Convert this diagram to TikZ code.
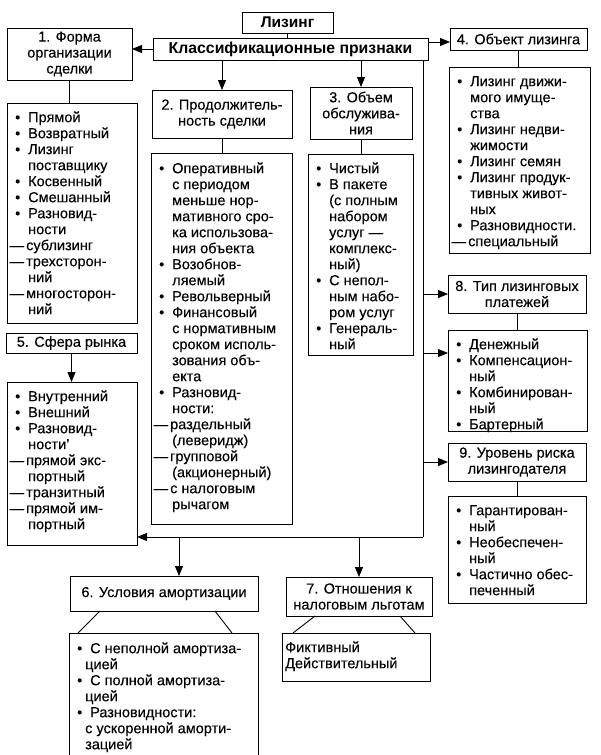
\documentclass[tikz,border=0pt]{standalone}
\usepackage{fontspec}
\setmainfont{Liberation Sans}[FakeBold=0.25]
\newfontfamily\hbold{Liberation Sans Bold}
\usetikzlibrary{arrows.meta,calc}
\newcommand{\bu}[1]{\makebox[20pt][l]{\hspace{7pt}\textbullet}#1}
\newcommand{\co}[1]{\makebox[20pt][l]{}#1}
\newcommand{\cs}[1]{\makebox[15pt][l]{}#1}
\newcommand{\da}[1]{\makebox[18pt][l]{\hspace{1.5pt}—}#1}
\newcommand{\fst}{\rule{0pt}{12pt}}
\tikzset{
  frame/.style={draw, line width=0.9pt, inner sep=0pt, outer sep=0pt, anchor=north west},
  head/.style={frame, align=center, font=\fontsize{14.5}{16}\selectfont},
  ltext/.style={anchor=north west, inner sep=0pt, align=left, font=\fontsize{14.5}{16}\selectfont},
  conn/.style={line width=0.9pt},
  arr/.style={conn, -{Triangle[length=10pt,width=8pt]}},
}
\begin{document}
\begin{tikzpicture}[x=1pt,y=-1pt]
\useasboundingbox (0,0) rectangle (600,755);
\clip (0,0) rectangle (600,755);
% header boxes
\node[head, minimum width=91pt, minimum height=21pt, font=\hbold\fontsize{15.5}{16}\selectfont] (lz) at (242,12) {Лизинг};
\node[head, minimum width=275pt, minimum height=22pt, font=\hbold\fontsize{15.8}{16}\selectfont] (kp) at (153,38) {Классификационные признаки};
\node[head, minimum width=125pt, minimum height=52pt] (b1) at (7,28) {1. Форма\\организации\\сделки};
\node[head, minimum width=140pt, minimum height=48pt] (b2) at (152,90) {2. Продолжитель-\\ность сделки};
\node[head, minimum width=102pt, minimum height=52pt] (b3) at (310,87) {3. Объем\\обслужива-\\ния};
\node[head, minimum width=137pt, minimum height=22pt] (b4) at (450,28) {4. Объект лизинга};
\node[head, minimum width=131pt, minimum height=20pt] (b5) at (6,333) {5. Сфера рынка};
\node[head, minimum width=188pt, minimum height=35pt] (b6) at (70,576) {6. Условия амортизации};
\node[head, minimum width=146pt, minimum height=39pt] (b7) at (286,577) {7. Отношения к\\налоговым льготам};
\node[head, minimum width=138pt, minimum height=38pt] (b8) at (448,275) {8. Тип лизинговых\\платежей};
\node[head, minimum width=138pt, minimum height=38pt] (b9) at (448,443) {9. Уровень риска\\лизингодателя};
% list boxes
\node[frame, minimum width=130pt, minimum height=220pt] (l1) at (7,103) {};
\node[frame, minimum width=141pt, minimum height=371pt] (l2) at (151,153) {};
\node[frame, minimum width=105pt, minimum height=201pt] (l3) at (308,154) {};
\node[frame, minimum width=141pt, minimum height=186pt] (l4) at (449,67) {};
\node[frame, minimum width=130pt, minimum height=163pt] (l5) at (7,382) {};
\node[frame, minimum width=189pt, minimum height=140pt] (l6) at (69,633) {};
\node[frame, minimum width=148pt, minimum height=48pt] (l7) at (282,633) {};
\node[frame, minimum width=139pt, minimum height=101pt] (l8) at (448,330) {};
\node[frame, minimum width=138pt, minimum height=107pt] (l9) at (448,496) {};
% list texts
\node[ltext] (t1) at ($(l1.north west)+(1,7)$) {\fst\bu{Прямой}\\\bu{Возвратный}\\\bu{Лизинг}\\\co{поставщику}\\\bu{Косвенный}\\\bu{Смешанный}\\\bu{Разновид-}\\\co{ности}\\\da{сублизинг}\\\da{трехсторон-}\\\co{ний}\\\da{многосторон-}\\\co{ний}};
\node[ltext] (t2) at ($(l2.north west)+(1,8)$) {\fst\bu{Оперативный}\\\co{с периодом}\\\co{меньше нор-}\\\co{мативного сро-}\\\co{ка использова-}\\\co{ния объекта}\\\bu{Возобнов-}\\\co{ляемый}\\\bu{Револьверный}\\\bu{Финансовый}\\\co{с нормативным}\\\co{сроком исполь-}\\\co{зования объ-}\\\co{екта}\\\bu{Разновид-}\\\co{ности:}\\\da{раздельный}\\\co{(леверидж)}\\\da{групповой}\\\co{(акционерный)}\\\da{с налоговым}\\\co{рычагом}};
\node[ltext] (t3) at ($(l3.north west)+(1,7)$) {\fst\bu{Чистый}\\\bu{В пакете}\\\co{(с полным}\\\co{набором}\\\co{услуг —}\\\co{комплекс-}\\\co{ный)}\\\bu{С непол-}\\\co{ным набо-}\\\co{ром услуг}\\\bu{Генераль-}\\\co{ный}};
\node[ltext] (t4) at ($(l4.north west)+(1,7)$) {\fst\bu{Лизинг движи-}\\\co{мого имуще-}\\\co{ства}\\\bu{Лизинг недви-}\\\co{жимости}\\\bu{Лизинг семян}\\\bu{Лизинг продук-}\\\co{тивных живот-}\\\co{ных}\\\bu{Разновидности.}\\\da{специальный}};
\node[ltext] (t5) at ($(l5.north west)+(1,7)$) {\fst\bu{Внутренний}\\\bu{Внешний}\\\bu{Разновид-}\\\co{ности’}\\\da{прямой экс-}\\\co{портный}\\\da{транзитный}\\\da{прямой им-}\\\co{портный}};
\node[ltext] (t6) at ($(l6.north west)+(1,8)$) {\fst\bu{С неполной амортиза-}\\\cs{цией}\\\bu{С полной амортиза-}\\\cs{цией}\\\bu{Разновидности:}\\\cs{с ускоренной аморти-}\\\cs{зацией}};
\node[ltext] (t7) at ($(l7.north west)+(3,7)$) {\fst Фиктивный\\Действительный};
\node[ltext] (t8) at ($(l8.north west)+(1,7)$) {\fst\bu{Денежный}\\\bu{Компенсацион-}\\\co{ный}\\\bu{Комбинирован-}\\\co{ный}\\\bu{Бартерный}};
\node[ltext] (t9) at ($(l9.north west)+(1,7)$) {\fst\bu{Гарантирован-}\\\co{ный}\\\bu{Необеспечен-}\\\co{ный}\\\bu{Частично обес-}\\\co{печенный}};
% connectors
\draw[conn] (lz.south) -- (lz.south |- kp.north);
\draw[arr] (kp.west) -- (kp.west -| b1.east);
\coordinate (k4) at ([yshift=7pt]kp.east);
\draw[arr] (k4) -- (k4 -| b4.west);
\draw[arr] (kp.south -| b2.north) -- (b2.north);
\draw[arr] (kp.south -| b3.north) -- (b3.north);
\draw[conn] (b1.south) -- (b1.south |- l1.north);
\draw[conn] (b2.south) -- (b2.south |- l2.north);
\draw[conn] (b3.south) -- (b3.south |- l3.north);
\draw[conn] (b4.south) -- (b4.south |- l4.north);
\draw[conn] (b8.south) -- (b8.south |- l8.north);
\draw[conn] (b9.south) -- (b9.south |- l9.north);
\draw[arr] (b5.south) -- (b5.south |- l5.north);
\coordinate (tb) at (423,537);
\draw[conn] (tb |- kp.south) -- (tb);
\draw[arr] (tb |- b8.west) -- (b8.west);
\coordinate (a8) at ($(l8.north west)+(0,23)$);
\draw[arr] (tb |- a8) -- (a8);
\draw[arr] (tb |- b9.west) -- (b9.west);
\draw[arr] (tb) -- (tb -| l5.east);
\coordinate (a6) at ($(b6.north west)+(109,0)$);
\draw[arr] (tb -| a6) -- (a6);
\draw[arr] (tb -| b7.north) -- (b7.north);
\draw[conn] ([xshift=30pt]b6.south west) -- ([xshift=9pt]l6.north west);
\draw[conn] ([xshift=-43pt]b6.south east) -- ([xshift=-26pt]l6.north east);
\draw[conn] ([xshift=29pt]b7.south west) -- ([xshift=11pt]l7.north west);
\draw[conn] ([xshift=-32pt]b7.south east) -- ([xshift=-15pt]l7.north east);
\end{tikzpicture}
\end{document}
